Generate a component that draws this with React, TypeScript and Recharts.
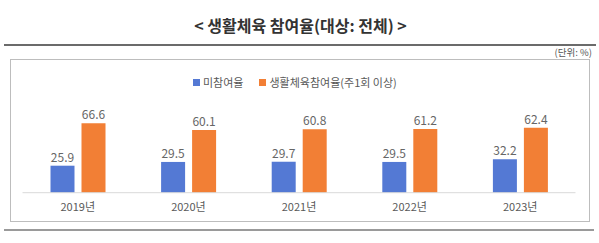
import React from "react";
import { BarChart, Bar, XAxis, YAxis, LabelList } from "recharts";

const categories = ["2019년", "2020년", "2021년", "2022년", "2023년"];
const nonParticipation = [25.9, 29.5, 29.7, 29.5, 32.2];
const participation = [66.6, 60.1, 60.8, 61.2, 62.4];
const seriesNames = ["미참여율", "생활체육참여율(주1회 이상)"];

const data = categories.map((c, i) => ({
  year: c,
  a: nonParticipation[i],
  b: participation[i],
}));

const BLUE = "#5479d4";
const ORANGE = "#f27f35";
const FONT = "'Noto Sans CJK KR', 'Noto Sans', sans-serif";

export default function App() {
  return (
    <div
      style={{
        position: "absolute",
        left: 0,
        top: 0,
        width: 599,
        height: 243,
        background: "#fff",
        fontFamily: FONT,
        overflow: "hidden",
      }}
    >
      <div
        style={{
          position: "absolute",
          left: 0,
          width: 601,
          top: 15,
          textAlign: "center",
          fontSize: 16,
          fontWeight: 700,
          color: "#333",
          lineHeight: "20px",
        }}
      >
        {"< 생활체육 참여율(대상: 전체) >"}
      </div>
      <div style={{ position: "absolute", left: 4, width: 592, top: 44, height: 2, background: "#6b6b6b" }} />
      <div
        style={{
          position: "absolute",
          right: 7,
          top: 46,
          fontSize: 9.5,
          color: "#555",
          lineHeight: "12px",
        }}
      >
        (단위: %)
      </div>
      <div
        style={{
          position: "absolute",
          left: 10,
          top: 59,
          width: 580,
          height: 163,
          border: "1px solid #bdbdbd",
          boxSizing: "border-box",
        }}
      />
      <div style={{ position: "absolute", left: 4, width: 590, top: 229, height: 2, background: "#9a9a9a" }} />
      <div
        style={{
          position: "absolute",
          left: 193,
          top: 75,
          display: "flex",
          alignItems: "center",
          fontSize: 11,
          color: "#595959",
          lineHeight: "14px",
          whiteSpace: "nowrap",
        }}
      >
        <span style={{ width: 7, height: 7, background: BLUE, display: "inline-block", marginRight: 3 }} />
        <span style={{ marginRight: 16 }}>{seriesNames[0]}</span>
        <span style={{ width: 7, height: 7, background: ORANGE, display: "inline-block", marginRight: 3 }} />
        <span>{seriesNames[1]}</span>
      </div>
      <div style={{ position: "absolute", left: 0, top: 0 }}>
        <BarChart
          width={599}
          height={243}
          data={data}
          margin={{ top: 109.3, right: 23.5, bottom: 20.3, left: 22.5 }}
          barSize={24}
          barGap={7}
        >
          <XAxis
            dataKey="year"
            height={30}
            tickLine={false}
            axisLine={{ stroke: "#d9d9d9" }}
            tickSize={6}
            tickMargin={4}
            tick={{ fontSize: 11, fill: "#595959", fontFamily: FONT }}
          />
          <YAxis hide domain={[0, 80]} />
          <Bar dataKey="a" fill={BLUE} isAnimationActive={false}>
            <LabelList dataKey="a" position="top" offset={4} fill="#666" fontSize={12} fontFamily={FONT} />
          </Bar>
          <Bar dataKey="b" fill={ORANGE} isAnimationActive={false}>
            <LabelList dataKey="b" position="top" offset={4} fill="#666" fontSize={12} fontFamily={FONT} />
          </Bar>
        </BarChart>
      </div>
    </div>
  );
}
